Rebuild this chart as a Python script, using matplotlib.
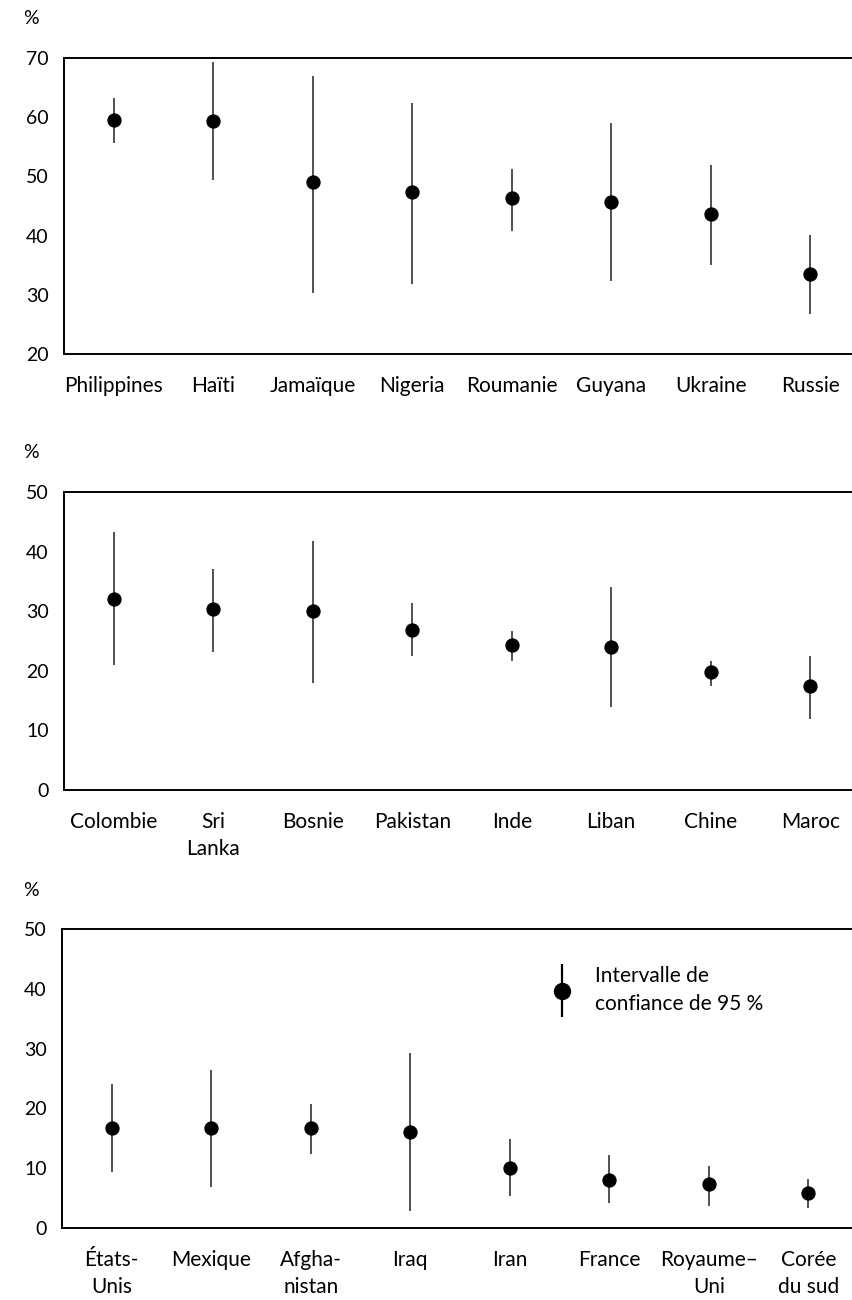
import numpy as np
import matplotlib as mpl
import matplotlib.pyplot as plt
from matplotlib.container import ErrorbarContainer
from matplotlib.legend_handler import HandlerErrorbar

mpl.rc('font', family=['Lato', 'DejaVu Sans'], size=15)

# panel 1
pays1 = ['Philippines', 'Haïti', 'Jamaïque', 'Nigeria', 'Roumanie', 'Guyana', 'Ukraine', 'Russie']
val1 = [59.6, 59.4, 49.0, 47.3, 46.3, 45.7, 43.6, 33.5]
bas1 = [55.7, 49.4, 30.3, 31.8, 40.7, 32.3, 35.0, 26.7]
haut1 = [63.2, 69.3, 67.0, 62.4, 51.3, 59.0, 52.0, 40.1]

# panel 2
pays2 = ['Colombie', 'Sri\nLanka', 'Bosnie', 'Pakistan', 'Inde', 'Liban', 'Chine', 'Maroc']
val2 = [32.1, 30.3, 30.1, 26.9, 24.3, 24.0, 19.8, 17.4]
bas2 = [20.9, 23.1, 18.0, 22.4, 21.7, 13.9, 17.5, 11.9]
haut2 = [43.3, 37.1, 41.8, 31.3, 26.6, 34.0, 21.7, 22.4]

# panel 3
pays3 = ['États-\nUnis', 'Mexique', 'Afgha-\nnistan', 'Iraq', 'Iran', 'France', 'Royaume–\nUni', 'Corée\ndu sud']
val3 = [16.8, 16.8, 16.8, 16.1, 10.1, 8.1, 7.3, 5.9]
bas3 = [9.4, 6.9, 12.3, 2.9, 5.3, 4.2, 3.6, 3.4]
haut3 = [24.0, 26.4, 20.7, 29.2, 14.9, 12.2, 10.4, 8.2]

legende = 'Intervalle de\nconfiance de 95 %'

W, H = 852, 1300
fig = plt.figure(figsize=(W / 100, H / 100), dpi=100)


def panel(rect, pays, val, bas, haut, ylim, yticks, pct_y):
    ax = fig.add_axes(rect)
    x = np.arange(len(pays))
    val = np.array(val)
    err = [val - np.array(bas), np.array(haut) - val]
    ax.errorbar(x, val, yerr=err, fmt='o', color='black', ecolor='#222222',
                elinewidth=1.1, markersize=9.3, capsize=0)
    ax.set_xlim(-0.5, len(pays) - 0.5)
    ax.set_ylim(*ylim)
    ax.set_yticks(yticks)
    ax.set_xticks(x)
    ax.set_xticklabels(pays, linespacing=1.4)
    ax.tick_params(axis='both', length=0)
    ax.tick_params(axis='y', pad=11, labelsize=14)
    ax.tick_params(axis='x', pad=16, labelsize=15)
    for s in ax.spines.values():
        s.set_linewidth(1.4)
    ax.spines['right'].set_visible(False)
    fig.text(31 / W, 1 - pct_y / H, '%', ha='center', va='center', fontsize=14)
    return ax


def rect(left, top, bottom):
    return [left / W, 1 - bottom / H, 796 / W, (bottom - top) / H]


panel(rect(64, 58, 354), pays1, val1, bas1, haut1, (20, 70), range(20, 71, 10), 18)
panel(rect(64, 492, 790), pays2, val2, bas2, haut2, (0, 50), range(0, 51, 10), 452)
ax3 = panel(rect(62, 929, 1228), pays3, val3, bas3, haut3, (0, 50), range(0, 51, 10), 890)

# legend key
proxy = ax3.errorbar([], [], yerr=[], fmt='o', color='black', ecolor='black',
                     elinewidth=1.6, markersize=11.5, capsize=0)
leg = ax3.legend([proxy], [legende], loc='center left', frameon=False,
                 bbox_to_anchor=(552 / W, 1 - 990 / H), bbox_transform=fig.transFigure,
                 borderpad=0, borderaxespad=0, handlelength=1.0, handletextpad=1.05,
                 handler_map={ErrorbarContainer: HandlerErrorbar(yerr_size=1.27)},
                 fontsize=15)
for t in leg.get_texts():
    t.set_linespacing(1.45)

fig.savefig('out.png', dpi=100)
